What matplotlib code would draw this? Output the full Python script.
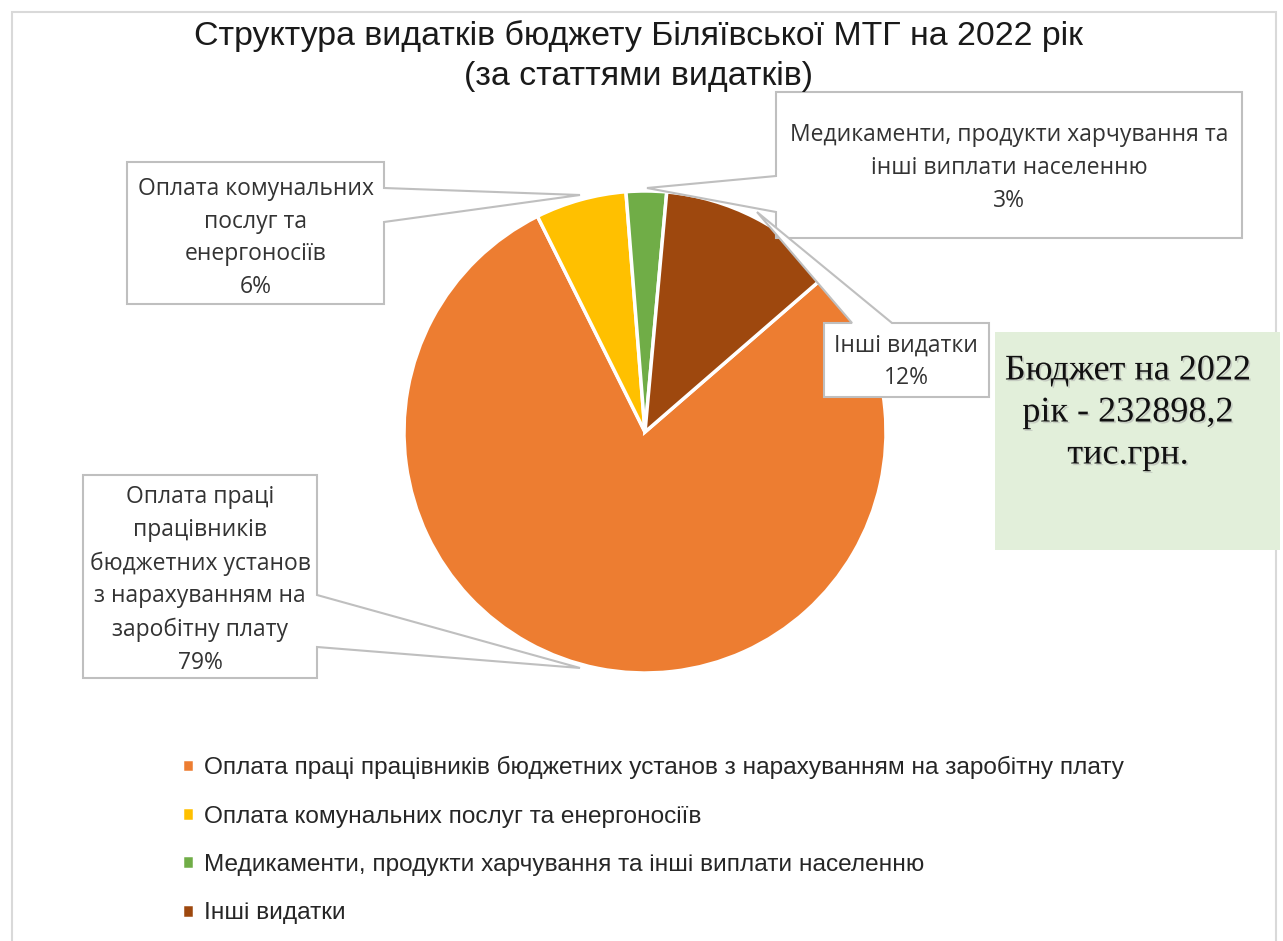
import matplotlib
matplotlib.use("Agg")
import matplotlib.pyplot as plt
from matplotlib.patches import Polygon, Rectangle
import matplotlib.patheffects as pe

# ---------------- data ----------------
categories = [
    "Оплата праці працівників бюджетних установ з нарахуванням на заробітну плату",
    "Оплата комунальних послуг та енергоносіїв",
    "Медикаменти, продукти харчування та інші виплати населенню",
    "Інші видатки",
]
label_names = [
    "Оплата праці\nпрацівників\nбюджетних установ\nз нарахуванням на\nзаробітну плату",
    "Оплата комунальних\nпослуг та\nенергоносіїв",
    "Медикаменти, продукти харчування та\nінші виплати населенню",
    "Інші видатки",
]
shares = [79.0, 6.1, 2.7, 12.2]
colors = ["#ED7D31", "#FFC000", "#70AD47", "#9E480E"]
title = "Структура видатків бюджету Біляївської МТГ на 2022 рік\n(за статтями видатків)"
budget_note = "Бюджет на 2022\nрік - 232898,2\nтис.грн."

# ---------------- layout ----------------
W, H = 1283, 941
DPI = 100
sans = "Liberation Sans"
label_font = "Open Sans"
serif = "Liberation Serif"

fig = plt.figure(figsize=(W / DPI, H / DPI), dpi=DPI)
ax = fig.add_axes([0, 0, 1, 1])


def Y(y):
    return H - y


wedges, _ = ax.pie(
    shares, colors=colors, startangle=40.9, counterclock=False,
    center=(645, Y(432)), radius=241,
    wedgeprops=dict(edgecolor="white", linewidth=2.5),
)
ax.set_xlim(0, W)
ax.set_ylim(0, H)
ax.set_aspect("equal")
ax.axis("off")

# chart border
ax.add_patch(Rectangle((12, Y(960)), 1264, 948, fill=False, edgecolor="#D9D9D9",
                       linewidth=1.5, zorder=0))

# callouts: (vertices in pixel coords, text centre)
callouts = [
    ([(83, 475), (317, 475), (317, 595), (580, 668), (317, 647), (317, 678), (83, 678)],
     (200, 580)),
    ([(127, 162), (384, 162), (384, 188), (580, 195), (384, 222), (384, 304), (127, 304)],
     (256, 238)),
    ([(776, 92), (1242, 92), (1242, 238), (776, 238), (776, 212), (647, 188), (776, 176)],
     (1009, 168)),
    ([(824, 323), (852, 323), (757, 212), (892, 323), (989, 323), (989, 397), (824, 397)],
     (906, 362)),
]
for i, (verts, (tx, ty)) in enumerate(callouts):
    ax.add_patch(Polygon([(x, Y(y)) for x, y in verts], closed=True, facecolor="white",
                         edgecolor="#BFBFBF", linewidth=1.5, zorder=3))
    pct = f"{shares[i]:.0f}%"
    ax.text(tx, Y(ty), label_names[i] + "\n" + pct, ha="center", va="center",
            fontsize=16.5, family=label_font, color="#333333", linespacing=1.49, zorder=4)

# title
ax.text(638, Y(56), title, ha="center", va="center", fontsize=24.4, family=sans,
        color="#1a1a1a", linespacing=1.36, zorder=4)

# budget note
ax.add_patch(Rectangle((995, Y(550)), 285, 218, facecolor="#E2EFDA", edgecolor="none", zorder=2))
ax.text(1128, Y(413), budget_note, ha="center", va="center", fontsize=26, family=serif,
        color="#111111", linespacing=1.36, zorder=4,
        path_effects=[pe.withSimplePatchShadow(offset=(1.2, -1.2), shadow_rgbFace="#aaaaaa",
                                               alpha=0.5)])

# legend
leg = fig.legend(
    wedges, categories, loc="upper left", bbox_to_anchor=(182 / W, 1 - 756 / H),
    frameon=False, prop=dict(family=sans, size=17.6), labelcolor="#262626",
    handlelength=0.5, handleheight=0.5, handletextpad=0.4, labelspacing=1.08,
    borderpad=0, borderaxespad=0,
)

fig.savefig("out.png", dpi=DPI)
